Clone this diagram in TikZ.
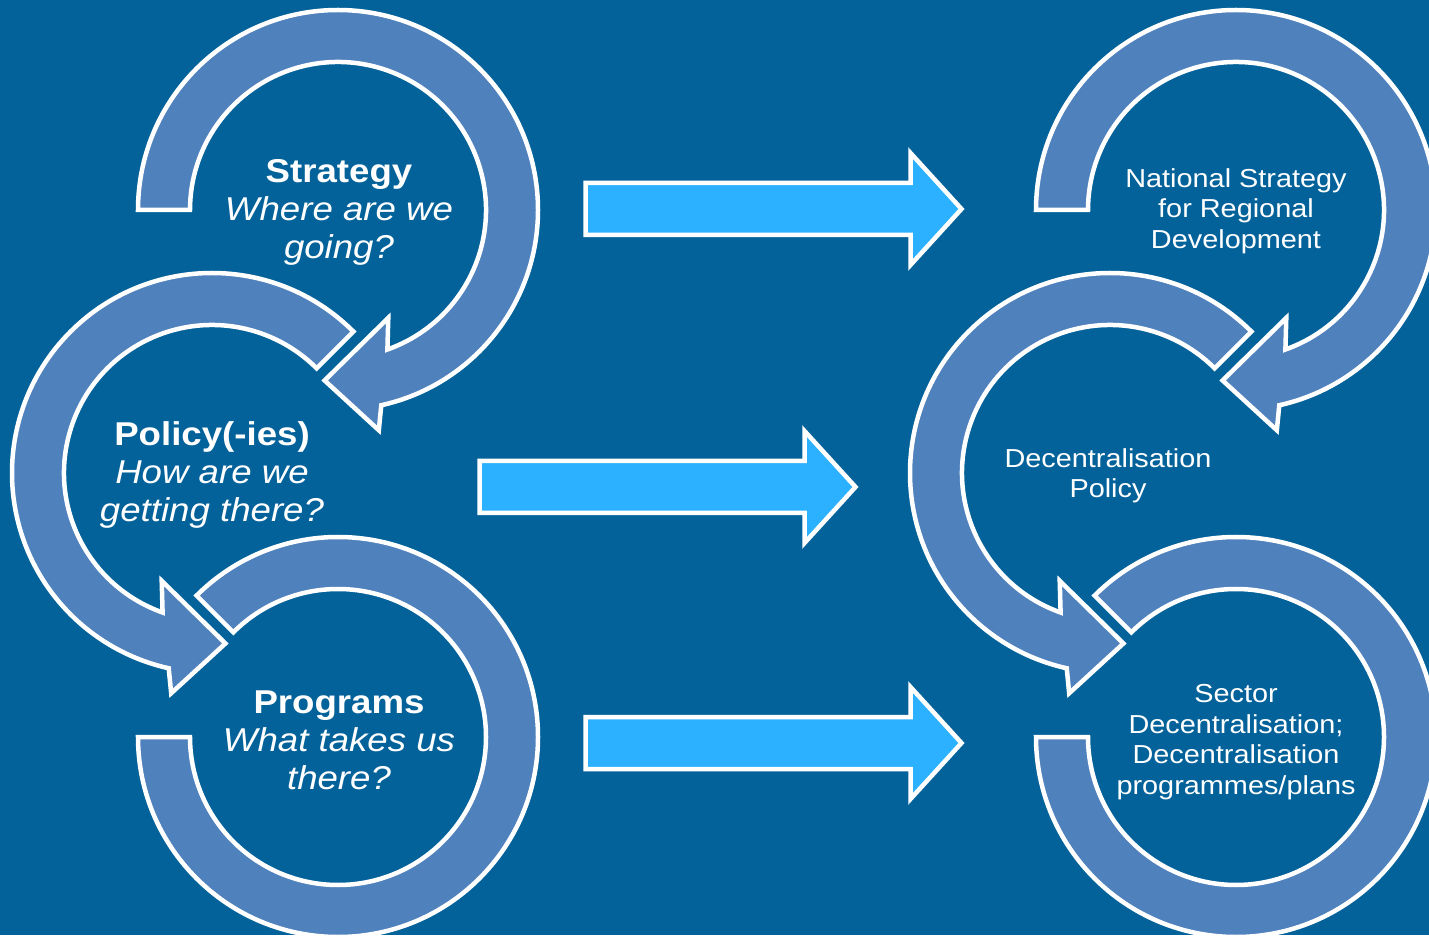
\documentclass[tikz,border=0pt]{standalone}
\usepackage{fontspec}
\setmainfont{Liberation Sans}[FakeStretch=1.11]
\definecolor{bgblue}{RGB}{4,98,154}
\definecolor{ringblue}{RGB}{79,129,189}
\definecolor{arrowcyan}{RGB}{43,177,255}
\tikzset{
  ring/.style={fill=ringblue,draw=white,line width=4.5pt,line join=miter},
  bigarrow/.style={fill=arrowcyan,draw=white,line width=4.5pt,line join=miter},
  lefttext/.style={text=white,align=center,font=\fontsize{33}{38}\selectfont},
  righttext/.style={text=white,align=center,font=\fontsize{26}{30.5}\selectfont}
}
\begin{document}
\begin{tikzpicture}[x=1pt,y=1pt]
        \useasboundingbox (0,0) rectangle (1429,935);
        \clip (0,0) rectangle (1429,935);
        \fill[bgblue] (0,0) rectangle (1429,935);
        % rings, right column is the left one shifted by 898
        \foreach \dx in {0,898}{
          \begin{scope}[shift={(338+\dx,725)}]
            \filldraw[ring] (180:200) arc[start angle=180,end angle=-77.5,radius=200] -- (-79.5:224) -- (-94.5:171) -- (-65:119) -- (-70.5:148) arc[start angle=-70.5,end angle=180,radius=148] -- cycle;
          \end{scope}
          \begin{scope}[shift={(212+\dx,462)}]
            \filldraw[ring] (45:200) arc[start angle=45,end angle=257.5,radius=200] -- (259.5:224) -- (274.5:171) -- (245:119) -- (250.5:148) arc[start angle=250.5,end angle=45,radius=148] -- cycle;
          \end{scope}
          \begin{scope}[shift={(338+\dx,198)}]
            \filldraw[ring] (180:200) arc[start angle=180,end angle=495,radius=200] -- (495:148) arc[start angle=495,end angle=180,radius=148] -- cycle;
          \end{scope}
        }
        % block arrows
        \foreach \ax/\ay in {585.5/726,479.5/448,585.5/192}
          \filldraw[bigarrow] (\ax,\ay+26) -- (\ax+325,\ay+26) -- (\ax+325,\ay+56) -- (\ax+376,\ay) -- (\ax+325,\ay-56) -- (\ax+325,\ay-26) -- (\ax,\ay-26) -- cycle;
        \node[lefttext](st)at(339,723){\textbf{Strategy}\\\textit{Where are we}\\\textit{going?}};
        \node[lefttext](po)at(212,460){\textbf{Policy(-ies)}\\\textit{How are we}\\\textit{getting there?}};
        \node[lefttext](pr)at(339,195){\textbf{Programs}\\\textit{What takes us}\\\textit{there?}};
        \node[righttext](nsrd)at(1236,724){National Strategy\\for Regional\\Development};
        \node[righttext](dp)at(1108,459){Decentralisation\\Policy};
        \node[righttext](sdp)at(1236,193){Sector\\Decentralisation;\\Decentralisation\\programmes/plans};
    \end{tikzpicture}
\end{document}
